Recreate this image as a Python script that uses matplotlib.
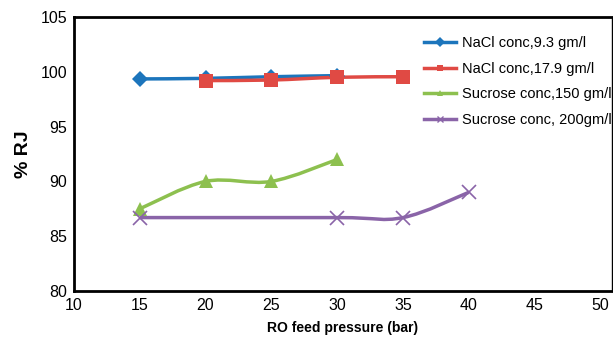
import numpy as np
import matplotlib.pyplot as plt
from matplotlib.path import Path
from matplotlib.patches import PathPatch
from matplotlib.lines import Line2D

plt.rcParams['font.family'] = ['Liberation Sans', 'DejaVu Sans']

# data
x_nacl1 = [15, 20, 25, 30]
y_nacl1 = [99.35, 99.4, 99.55, 99.65]
x_nacl2 = [20, 25, 30, 35]
y_nacl2 = [99.2, 99.25, 99.5, 99.55]
x_suc1 = [15, 20, 25, 30]
y_suc1 = [87.5, 90.0, 90.0, 92.0]
x_suc2 = [15, 30, 35, 40]
y_suc2 = [86.7, 86.7, 86.7, 89.0]

labels = ['NaCl conc,9.3 gm/l', 'NaCl conc,17.9 gm/l',
          'Sucrose conc,150 gm/l', 'Sucrose conc, 200gm/l']
colors = ['#1C75BC', '#E04A44', '#8DC04F', '#8A64A8']
markers = ['D', 's', '^', 'x']
msizes = [8, 10, 10, 10]


def smooth_path(xs, ys):
    # excel style smoothed line: cubic bezier with catmull-rom control points
    pts = np.column_stack([xs, ys]).astype(float)
    n = len(pts)
    verts = [pts[0]]
    codes = [Path.MOVETO]
    for i in range(n - 1):
        p0 = pts[i - 1] if i > 0 else pts[i]
        p1 = pts[i]
        p2 = pts[i + 1]
        p3 = pts[i + 2] if i + 2 < n else pts[i + 1]
        c1 = p1 + (p2 - p0) / 6.0
        c2 = p2 - (p3 - p1) / 6.0
        verts += [c1, c2, p2]
        codes += [Path.CURVE4] * 3
    return Path(verts, codes)


fig = plt.figure(figsize=(6.13, 3.38), dpi=100)
ax = fig.add_axes([0.1207, 0.139, 0.8777, 0.8107])

series = [(x_nacl1, y_nacl1), (x_nacl2, y_nacl2), (x_suc1, y_suc1), (x_suc2, y_suc2)]
handles = []
for (xs, ys), c, m, ms, lab in zip(series, colors, markers, msizes, labels):
    ax.add_patch(PathPatch(smooth_path(xs, ys), fill=False, edgecolor=c, lw=2.5, zorder=2))
    ax.plot(xs, ys, ls='none', marker=m, color=c, ms=ms, mew=1.2 if m == 'x' else 0, zorder=3)
    handles.append(Line2D([], [], color=c, lw=2.5, marker=m, ms=5, mew=1 if m == 'x' else 0))

ax.set_xlim(10, 50.9)
ax.set_ylim(80, 105)
ax.set_xticks(range(10, 51, 5))
ax.set_yticks(range(80, 106, 5))
ax.tick_params(length=0, labelsize=11.5, pad=5)
for s in ['top', 'bottom', 'left']:
    ax.spines[s].set_linewidth(2)
ax.spines['right'].set_linewidth(1)

ax.set_xlabel('RO feed pressure (bar)', fontsize=10, fontweight='bold', labelpad=6)
ax.set_ylabel('% RJ', fontsize=14, fontweight='bold', labelpad=6)

ax.legend(handles, labels, loc='upper right', bbox_to_anchor=(1.023, 0.978), frameon=False,
          fontsize=10.5, handlelength=2.2, handletextpad=0.35, labelspacing=0.8)

fig.savefig('out.png', dpi=100)
